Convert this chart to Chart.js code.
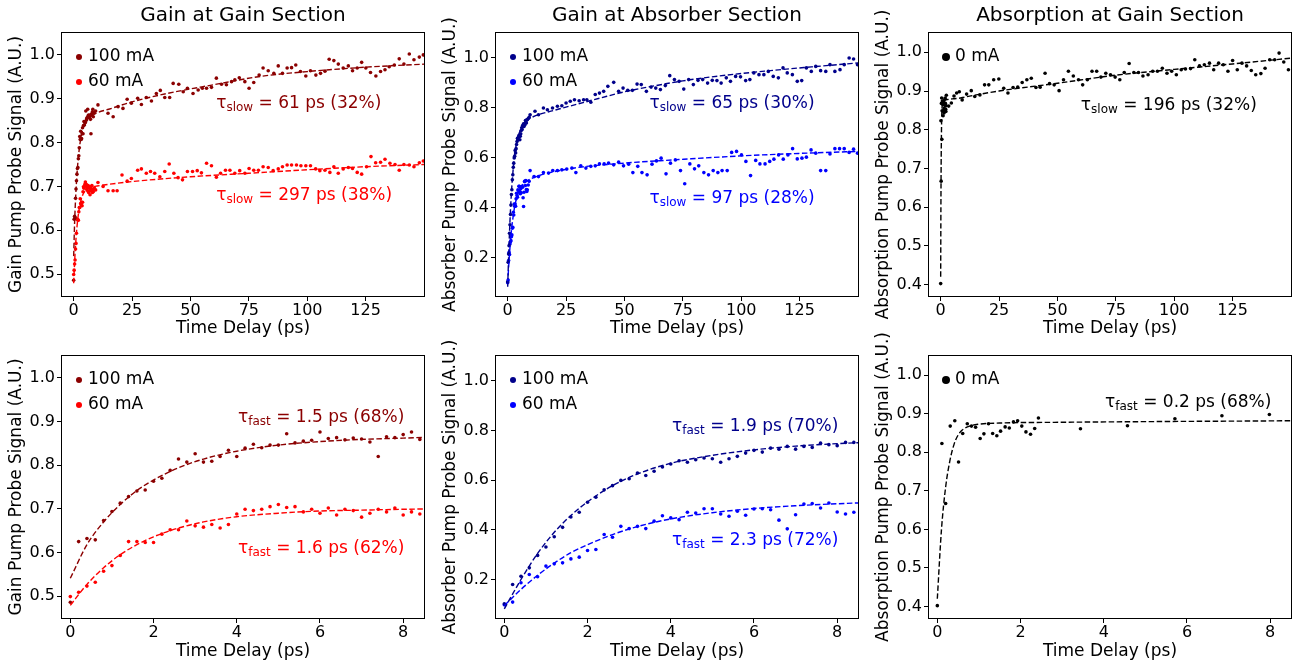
<!DOCTYPE html>
<html>
<head>
<meta charset="utf-8">
<script src="https://cdn.jsdelivr.net/npm/chart.js@4.4.1/dist/chart.umd.min.js"></script>
<style>
html,body{margin:0;padding:0;background:#fff;}
body{width:1295px;height:666px;position:relative;overflow:hidden;}
canvas{position:absolute;}
</style>
</head>
<body>
<canvas id="c1" width="428" height="345" style="left:0px;top:0px"></canvas>
<canvas id="c2" width="428" height="345" style="left:434px;top:0px"></canvas>
<canvas id="c3" width="428" height="345" style="left:867px;top:0px"></canvas>
<canvas id="c4" width="428" height="341" style="left:0px;top:325px"></canvas>
<canvas id="c5" width="428" height="341" style="left:434px;top:325px"></canvas>
<canvas id="c6" width="428" height="341" style="left:867px;top:325px"></canvas>
<script>
// ===== DATA =====
// gain section, 100 mA
const gain100Time = [0,0.2,0.4,0.6,0.8,1,1.2,1.4,1.6,1.8,2,2.2,2.4,2.6,2.8,3,3.2,3.4,3.6,3.8,4,4.2,4.4,4.6,4.8,5,5.2,5.4,5.6,5.8,6,6.2,6.4,6.6,6.8,7,7.2,7.4,7.6,7.8,8,8.2,8.4,8.8,9.4,
  10.4,14.7,16.9,19,21.1,22.9,24.7,27.4,29,31.1,33.3,35.4,37.1,39,41.1,42.6,45,46.9,48.7,51.1,53.3,55.1,56.9,59,61.1,63.3,65.4,67.6,69,70.9,
  73.3,75.1,77.1,79.4,81.1,83.3,85.7,87.6,89.4,91.4,93.3,95.1,97.1,99.4,101.4,103.7,105.7,107.6,109.4,111.4,113.3,115.4,117.6,119.4,121.4,123.3,125.1,127.1,129.4,131.4,
  133.3,135.1,137.3,139.4,141.4,143.7,145.7,148,149.7];
const gain100Signal = [0.486,0.625,0.632,0.629,0.673,0.694,0.713,0.728,0.741,0.743,0.763,0.770,0.788,0.814,0.807,0.826,0.807,0.809,0.820,0.834,0.820,0.839,0.848,0.840,0.846,0.846,0.872,0.851,0.855,0.857,0.876,0.861,0.863,0.858,0.862,0.860,0.853,0.820,0.865,0.863,0.870,0.876,0.859,0.868,0.872,
  0.886,0.867,0.859,0.882,0.878,0.899,0.890,0.901,0.887,0.903,0.895,0.912,0.919,0.903,0.903,0.935,0.933,0.916,0.924,0.912,0.920,0.924,0.924,0.926,0.947,0.933,0.932,0.939,0.943,0.948,
  0.939,0.924,0.937,0.954,0.970,0.964,0.958,0.975,0.958,0.970,0.971,0.977,0.962,0.952,0.964,0.954,0.958,0.963,0.990,0.987,0.979,0.970,0.975,0.964,0.970,0.983,0.970,0.960,0.952,0.962,
  0.966,0.973,0.977,0.991,0.979,1.002,0.989,0.995,1.0];
// gain section, 60 mA
const gain60Time = [0,0.2,0.4,0.6,0.8,1,1.2,1.4,1.6,1.8,2,2.2,2.4,2.6,2.8,3,3.2,3.4,3.6,3.8,4,4.2,4.4,4.6,4.8,5,5.2,5.4,5.6,5.8,6,6.2,6.4,6.6,6.8,7,7.2,7.4,7.6,7.8,8,8.2,8.4,8.8,9.4,
  10.4,12.6,14.7,16.9,18.6,20.7,22.9,24.7,27.4,29,31.1,32.9,34.7,36.9,39,40.9,42.9,44.7,46.6,48.7,50.9,52.9,54.7,56.9,59,61.1,62.9,65,66.9,69,
  71.1,73.3,75.1,77.1,79.1,81.1,83.3,85.4,87.6,89.4,91.4,93.3,95.4,97.3,99.4,101.4,103.6,105.4,107.6,109.7,111.4,113.3,115.4,117.6,119.4,121.4,123.3,125.4,127.3,129.3,
  131.4,133.3,135.4,137.6,139.4,141.4,143.7,145.7,148,149.7];
const gain60Signal = [0.499,0.509,0.523,0.532,0.557,0.570,0.593,0.625,0.625,0.623,0.623,0.642,0.652,0.652,0.672,0.661,0.658,0.664,0.656,0.664,0.688,0.699,0.696,0.699,0.705,0.710,0.703,0.705,0.693,0.699,0.690,0.702,0.686,0.699,0.696,0.681,0.690,0.699,0.693,0.702,0.686,0.693,0.688,0.697,0.692,
  0.709,0.700,0.690,0.690,0.690,0.726,0.712,0.718,0.737,0.740,0.730,0.734,0.730,0.722,0.734,0.751,0.730,0.720,0.715,0.734,0.734,0.736,0.731,0.753,0.747,0.721,0.730,0.737,0.737,0.730,
  0.736,0.730,0.741,0.737,0.737,0.745,0.743,0.736,0.740,0.745,0.749,0.749,0.749,0.747,0.747,0.747,0.740,0.736,0.737,0.732,0.745,0.730,0.740,0.743,0.741,0.732,0.728,0.745,0.768,0.754,
  0.755,0.762,0.753,0.750,0.737,0.750,0.749,0.745,0.754,0.758];
// absorber section, 100 mA
const abs100Time = [0,0.2,0.4,0.6,0.8,1,1.2,1.4,1.6,1.8,2,2.2,2.4,2.6,2.8,3,3.2,3.4,3.6,3.8,4,4.2,4.4,4.6,4.8,5,5.2,5.4,5.6,5.8,6,6.2,6.4,6.6,6.8,7,7.2,7.4,7.6,7.8,8,8.2,8.4,8.8,9.2,
  9.6,11.7,13.2,15.3,17,19.2,21.3,23.2,25,26.8,28.6,30.6,32.5,33.9,35.6,37.5,39.3,41.1,42.9,45.4,47.5,49.4,51.4,53.4,55.4,57.2,59.4,61.4,63.4,65.4,
  67.5,69.4,71.4,73.4,75.4,77.5,79.5,81.5,83.5,85.6,87.6,89.6,91.4,93.6,95.4,97.6,99.7,101.9,103.7,105.4,107.6,109.7,111.6,113.7,115.9,117.9,119.7,121.9,124,125.9,
  127.9,130,131.9,134,136.2,138,140.1,142.3,144.1,146.2,148.1,149.8];
const abs100Signal = [0.102,0.180,0.213,0.247,0.297,0.331,0.372,0.410,0.452,0.471,0.511,0.531,0.561,0.578,0.599,0.606,0.629,0.619,0.636,0.653,0.665,0.678,0.672,0.682,0.689,0.686,0.672,0.686,0.696,0.709,0.720,0.713,0.729,0.725,0.736,0.725,0.736,0.732,0.749,0.743,0.739,0.752,0.752,0.757,0.762,
  0.772,0.786,0.772,0.799,0.792,0.799,0.806,0.808,0.819,0.826,0.832,0.828,0.832,0.832,0.822,0.853,0.859,0.866,0.886,0.902,0.866,0.879,0.870,0.870,0.895,0.893,0.866,0.883,0.879,0.873,
  0.889,0.929,0.913,0.906,0.875,0.913,0.893,0.910,0.913,0.899,0.910,0.909,0.899,0.920,0.906,0.926,0.924,0.909,0.913,0.940,0.933,0.933,0.946,0.926,0.920,0.960,0.940,0.933,0.906,0.909,
  0.960,0.946,0.966,0.949,0.946,0.973,0.946,0.953,0.973,1.0,0.996,0.973];
// absorber section, 60 mA
const abs60Time = [0,0.2,0.4,0.6,0.8,1,1.2,1.4,1.6,1.8,2,2.2,2.4,2.6,2.8,3,3.2,3.4,3.6,3.8,4,4.2,4.4,4.6,4.8,5,5.2,5.4,5.6,5.8,6,6.2,6.4,6.6,6.8,7,7.2,7.4,7.6,7.8,8,8.2,8.4,8.8,9.2,
  9.6,11.3,13.2,15.3,17.5,19.3,21.3,23.2,25.3,27.5,29.2,31.3,33.5,35.6,37.5,39.3,41.3,43.2,45.4,47.5,49.6,51.8,53.6,55.7,57.5,59.7,61.8,63.7,65.7,67.8,
  69.7,71.8,74,75.8,78,80,81.8,84,86,88,90,91.8,94,95.9,98,100.1,102,104,106.2,108,110.2,112.2,114,116,118,120,122,124,126,127.9,
  129.9,131.9,134,136.2,138,140.1,142.1,144.1,146.2,148.1,149.8];
const abs60Signal = [0.098,0.109,0.187,0.220,0.211,0.254,0.263,0.267,0.283,0.290,0.317,0.321,0.381,0.370,0.414,0.405,0.414,0.405,0.435,0.457,0.448,0.441,0.471,0.468,0.485,0.485,0.464,0.455,0.475,0.459,0.484,0.485,0.481,0.439,0.404,0.461,0.504,0.506,0.488,0.508,0.472,0.464,0.471,0.490,0.505,
  0.548,0.524,0.524,0.540,0.538,0.548,0.548,0.551,0.554,0.558,0.540,0.567,0.558,0.565,0.567,0.575,0.575,0.578,0.571,0.582,0.567,0.574,0.540,0.565,0.540,0.531,0.574,0.587,0.598,0.535,
  0.578,0.591,0.548,0.495,0.575,0.555,0.567,0.540,0.531,0.548,0.540,0.548,0.548,0.621,0.625,0.611,0.585,0.528,0.589,0.575,0.575,0.585,0.594,0.611,0.594,0.611,0.636,0.595,0.598,0.602,
  0.631,0.618,0.548,0.548,0.615,0.636,0.636,0.636,0.621,0.634,0.618];
// absorption at gain section, 0 mA
const absorb0Time = [0,0.11,0.2,0.31,0.42,0.51,0.61,0.72,0.82,0.92,1.03,1.12,1.23,1.33,1.43,1.52,1.63,1.73,1.83,1.93,2.03,2.13,2.24,2.34,2.43,3.44,4.57,5.71,6.84,7.98,
  9.2,11.1,13.1,14.6,16.8,18.8,20.6,22.7,24.9,27,28.8,31,33,34.9,36.9,38.8,40.8,42.6,44.7,46.6,48.6,50.7,52.6,54.7,56.8,59,60.8,62.8,64.8,66.8,
  68.6,70.7,72.7,74.7,76.7,78.6,80.7,82.7,84.7,86.6,88.8,90.8,92.8,94.9,96.9,98.9,100.9,103,104.8,107,108.8,110.8,112.9,115.1,116.9,119,121,123,125,127,
  129,131,133,134.9,137.1,138.9,140.9,143,144.9,146.9,148.9];
const absorb0Signal = [0.402,0.823,0.667,0.868,0.882,0.775,0.849,0.874,0.868,0.865,0.836,0.848,0.874,0.849,0.843,0.855,0.866,0.863,0.879,0.882,0.868,0.853,0.847,0.862,0.889,0.861,0.869,0.887,0.895,0.898,
  0.877,0.892,0.901,0.886,0.890,0.916,0.916,0.929,0.931,0.907,0.895,0.909,0.910,0.922,0.929,0.933,0.909,0.910,0.946,0.919,0.916,0.901,0.929,0.951,0.939,0.929,0.916,0.929,0.951,0.951,
  0.936,0.946,0.942,0.936,0.929,0.948,0.971,0.948,0.948,0.939,0.942,0.951,0.951,0.959,0.946,0.951,0.942,0.955,0.957,0.958,0.981,0.965,0.968,0.972,0.955,0.972,0.968,0.951,0.979,0.955,
  0.972,0.965,0.953,0.942,0.945,0.959,0.981,0.981,0.998,0.975,0.955];

// fitted curves (sampled off the dashed lines)
const gain100FitTime = [0,0.4,0.8,1.2,1.6,2,2.6,3.2,4,5,6,7,8,10,15,25,40,60,80,100,125,150];
const gain100FitSignal = [0.541,0.618,0.670,0.710,0.742,0.766,0.794,0.814,0.832,0.846,0.854,0.859,0.862,0.868,0.876,0.893,0.912,0.932,0.951,0.962,0.972,0.979];
const gain60FitTime = [0,0.4,0.8,1.2,1.6,2,2.6,3.2,4,5,6,7,8,10,25,50,75,100,125,150];
const gain60FitSignal = [0.479,0.527,0.565,0.595,0.618,0.636,0.656,0.670,0.682,0.690,0.695,0.697,0.699,0.701,0.711,0.722,0.730,0.738,0.745,0.750];
const abs100FitTime = [0,0.4,0.8,1.2,1.6,2,2.6,3.2,4,5,6,7,8,10,20,30,40,50,60,75,90,110,130,150];
const abs100FitSignal = [0.082,0.200,0.305,0.390,0.458,0.513,0.578,0.625,0.668,0.700,0.722,0.737,0.747,0.760,0.790,0.815,0.840,0.864,0.883,0.908,0.927,0.947,0.964,0.980];
const abs60FitTime = [0,0.4,0.8,1.2,1.6,2,2.6,3.2,4,5,6,7,8,10,25,50,71,100,125,150];
const abs60FitSignal = [0.095,0.160,0.217,0.266,0.308,0.340,0.381,0.413,0.444,0.469,0.486,0.497,0.505,0.516,0.553,0.578,0.591,0.607,0.617,0.625];
const absorb0FitTime = [0,0.1,0.2,0.3,0.4,0.5,0.6,0.8,1,1.5,3,5.5,8.5,10,25,50,75,100,125,150];
const absorb0FitSignal = [0.42,0.60,0.71,0.777,0.82,0.845,0.858,0.869,0.873,0.876,0.878,0.880,0.882,0.884,0.900,0.920,0.941,0.956,0.970,0.985];

// tick labels
const slowTicksX = [0,25,50,75,100,125];
const fastTicksX = [0,2,4,6,8];
const gainTicksY = [0.5,0.6,0.7,0.8,0.9,1.0];
const absorberTicksY = [0.2,0.4,0.6,0.8,1.0];
const absorptionTicksY = [0.4,0.5,0.6,0.7,0.8,0.9,1.0];

// fitted time constants
const gainSlowText = ["61 ps (32%)", "297 ps (38%)"];
const gainFastText = ["1.5 ps (68%)", "1.6 ps (62%)"];
const absorberSlowText = ["65 ps (30%)", "97 ps (28%)"];
const absorberFastText = ["1.9 ps (70%)", "2.3 ps (72%)"];
const absorptionSlowText = ["196 ps (32%)"];
const absorptionFastText = ["0.2 ps (68%)"];

// ===== DRAWING =====
const FONT = "'DejaVu Sans', sans-serif";
Chart.defaults.font.family = FONT;
Chart.defaults.color = "#000";

const toPts = (t, s) => t.map((v, i) => ({x: v, y: s[i]}));

function dots(label, t, s, color){
    return {label, data: toPts(t, s), showLine: false, pointRadius: 1.8, pointHoverRadius: 1.8,
        pointBorderWidth: 0, pointBackgroundColor: color, backgroundColor: color, borderColor: color,
        inLegend: true, order: 1};
}
function fit(t, s, color){
    return {label: "", data: toPts(t, s), showLine: true, pointRadius: 0, pointHoverRadius: 0,
        borderColor: color, borderWidth: 1.4, borderDash: [5.5, 2.5], cubicInterpolationMode: "monotone",
        fill: false, inLegend: false, order: 0};
}

const boxPlugin = {
    id: "box",
    afterDraw(chart){
        const {ctx, chartArea: a} = chart;
        ctx.save();
        ctx.strokeStyle = "#000";
        ctx.lineWidth = 1;
        ctx.strokeRect(a.left - 0.5, a.top - 0.5, a.right - a.left + 1, a.bottom - a.top + 1);
        ctx.restore();
    }
};

const dotLegend = {
    id: "dotLegend",
    afterDraw(chart, args, opts){
        const {ctx, chartArea: a} = chart;
        ctx.save();
        ctx.font = "17px " + FONT;
        ctx.textBaseline = "middle";
        chart.data.datasets.filter(d => d.inLegend).forEach((d, i) => {
            const y = a.top + 24 + i * 25;
            ctx.fillStyle = d.backgroundColor;
            ctx.beginPath();
            ctx.arc(a.left + 17, y, opts.r, 0, Math.PI * 2);
            ctx.fill();
            ctx.fillStyle = "#000";
            ctx.fillText(d.label, a.left + 26, y);
        });
        ctx.restore();
    }
};

const tauText = {
    id: "tauText",
    afterDraw(chart, args, opts){
        const {ctx, scales} = chart;
        (opts.items || []).forEach(it => {
            let px = scales.x.getPixelForValue(it.x);
            const py = scales.y.getPixelForValue(it.y);
            ctx.save();
            ctx.fillStyle = it.color;
            ctx.textBaseline = "alphabetic";
            ctx.font = "17px " + FONT;
            ctx.fillText("τ", px, py);
            px += ctx.measureText("τ").width;
            ctx.font = "12px " + FONT;
            ctx.fillText(it.sub, px, py + 3);
            px += ctx.measureText(it.sub).width;
            ctx.font = "17px " + FONT;
            ctx.fillText(" = " + it.text, px, py);
            ctx.restore();
        });
    }
};

function makeChart(id, o){
    const top = o.top;
    return new Chart(document.getElementById(id), {
        type: "line",
        data: {datasets: o.datasets},
        plugins: [boxPlugin, dotLegend, tauText],
        options: {
            responsive: false,
            animation: false,
            events: [],
            layout: {padding: {left: 0, right: 4, top: top ? 0 : 31, bottom: 0}},
            scales: {
                x: {
                    type: "linear", min: o.xMin, max: o.xMax,
                    afterBuildTicks: s => { s.ticks = o.xTicks.map(v => ({value: v})); },
                    afterFit: s => { s.height = top ? 49 : 48; },
                    grid: {display: true, drawOnChartArea: false, drawTicks: true, tickLength: 5, color: "#000"},
                    border: {display: false},
                    ticks: {padding: 0, autoSkip: false, maxRotation: 0, font: {size: 16}, color: "#000",
                        callback: v => String(v)},
                    title: {display: true, text: "Time Delay (ps)", font: {size: 17}, color: "#000",
                        padding: {top: 0, bottom: top ? 6 : 4}}
                },
                y: {
                    type: "linear", min: o.yMin, max: o.yMax,
                    afterBuildTicks: s => { s.ticks = o.yTicks.map(v => ({value: v})); },
                    afterFit: s => { s.width = 62; },
                    grid: {display: true, drawOnChartArea: false, drawTicks: true, tickLength: 5, color: "#000"},
                    border: {display: false},
                    ticks: {padding: 2, autoSkip: false, font: {size: 16}, color: "#000",
                        callback: v => v.toFixed(1)},
                    title: {display: true, text: o.yLabel, font: {size: 17}, color: "#000",
                        padding: {top: 6, bottom: 0}}
                }
            },
            plugins: {
                legend: {display: false},
                tooltip: {enabled: false},
                title: {display: !!o.title, text: o.title, fullSize: false, color: "#000",
                    font: {size: 20, weight: "normal"}, padding: {top: 4, bottom: 5}},
                dotLegend: {r: o.legendR},
                tauText: {items: o.tau}
            }
        }
    });
}

const DARKRED = "#8b0000", RED = "#ff0000", DARKBLUE = "#00008b", BLUE = "#0000ff", BLACK = "#000000";

const gainSets = () => [
    dots("100 mA", gain100Time, gain100Signal, DARKRED),
    dots("60 mA", gain60Time, gain60Signal, RED),
    fit(gain100FitTime, gain100FitSignal, DARKRED),
    fit(gain60FitTime, gain60FitSignal, RED)
];
const absorberSets = () => [
    dots("100 mA", abs100Time, abs100Signal, DARKBLUE),
    dots("60 mA", abs60Time, abs60Signal, BLUE),
    fit(abs100FitTime, abs100FitSignal, DARKBLUE),
    fit(abs60FitTime, abs60FitSignal, BLUE)
];
const absorptionSets = () => [
    dots("0 mA", absorb0Time, absorb0Signal, BLACK),
    fit(absorb0FitTime, absorb0FitSignal, BLACK)
];

makeChart("c1", {top: true, title: "Gain at Gain Section", yLabel: "Gain Pump Probe Signal (A.U.)",
    datasets: gainSets(), xMin: -5, xMax: 150, xTicks: slowTicksX, yMin: 0.45, yMax: 1.05, yTicks: gainTicksY, legendR: 3,
    tau: [{x: 61, y: 0.88, sub: "slow", text: gainSlowText[0], color: DARKRED},
          {x: 61, y: 0.67, sub: "slow", text: gainSlowText[1], color: RED}]});
makeChart("c2", {top: true, title: "Gain at Absorber Section", yLabel: "Absorber Pump Probe Signal (A.U.)",
    datasets: absorberSets(), xMin: -5, xMax: 150, xTicks: slowTicksX, yMin: 0.045, yMax: 1.1, yTicks: absorberTicksY, legendR: 3,
    tau: [{x: 60.7, y: 0.80, sub: "slow", text: absorberSlowText[0], color: DARKBLUE},
          {x: 60.7, y: 0.42, sub: "slow", text: absorberSlowText[1], color: BLUE}]});
makeChart("c3", {top: true, title: "Absorption at Gain Section", yLabel: "Absorption Pump Probe Signal (A.U.)",
    datasets: absorptionSets(), xMin: -5, xMax: 150, xTicks: slowTicksX, yMin: 0.37, yMax: 1.05, yTicks: absorptionTicksY, legendR: 4,
    tau: [{x: 60, y: 0.851, sub: "slow", text: absorptionSlowText[0], color: BLACK}]});
makeChart("c4", {top: false, title: "", yLabel: "Gain Pump Probe Signal (A.U.)",
    datasets: gainSets(), xMin: -0.2, xMax: 8.5, xTicks: fastTicksX, yMin: 0.45, yMax: 1.05, yTicks: gainTicksY, legendR: 3,
    tau: [{x: 4.03, y: 0.90, sub: "fast", text: gainFastText[0], color: DARKRED},
          {x: 4.03, y: 0.60, sub: "fast", text: gainFastText[1], color: RED}]});
makeChart("c5", {top: false, title: "", yLabel: "Absorber Pump Probe Signal (A.U.)",
    datasets: absorberSets(), xMin: -0.2, xMax: 8.5, xTicks: fastTicksX, yMin: 0.045, yMax: 1.1, yTicks: absorberTicksY, legendR: 3,
    tau: [{x: 4.03, y: 0.80, sub: "fast", text: absorberFastText[0], color: DARKBLUE},
          {x: 4.03, y: 0.34, sub: "fast", text: absorberFastText[1], color: BLUE}]});
makeChart("c6", {top: false, title: "", yLabel: "Absorption Pump Probe Signal (A.U.)",
    datasets: absorptionSets(), xMin: -0.2, xMax: 8.5, xTicks: fastTicksX, yMin: 0.37, yMax: 1.05, yTicks: absorptionTicksY, legendR: 4,
    tau: [{x: 4.03, y: 0.918, sub: "fast", text: absorptionFastText[0], color: BLACK}]});
</script>
</body>
</html>
